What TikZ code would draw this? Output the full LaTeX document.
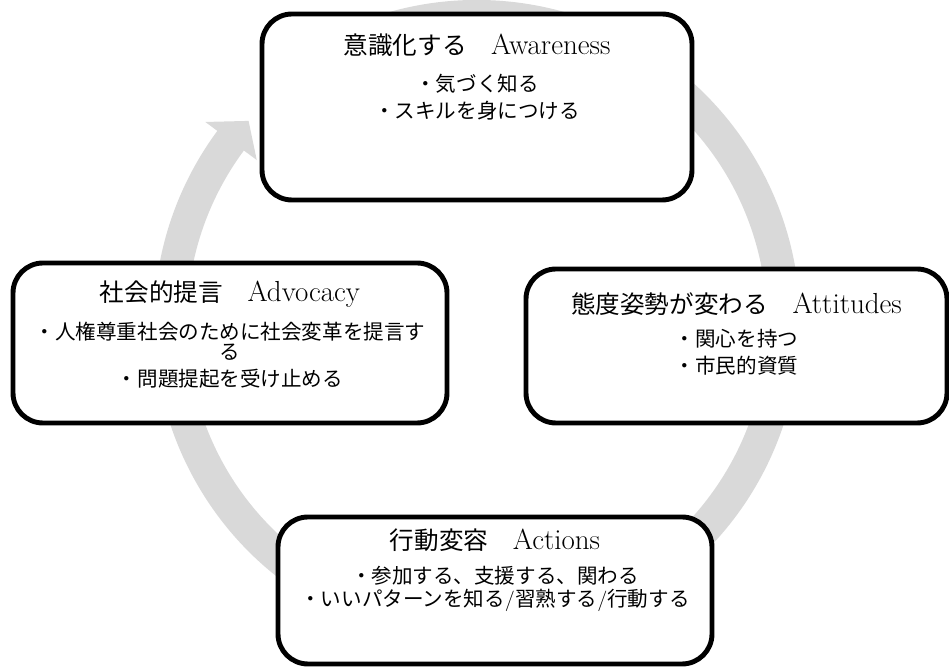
\documentclass[tikz,border=0pt]{standalone}
\usepackage{fontspec}
\newfontfamily\jp{Noto Sans CJK JP}
\usetikzlibrary{calc}
\definecolor{ringgray}{RGB}{217,217,217}
\newcommand{\jtitle}[1]{{\jp\fontsize{14}{17}\selectfont #1}}

\begin{document}
\begin{tikzpicture}[
  box/.style={draw, line width=2.8pt, rounded corners=0.6cm, fill=white},
  boxtitle/.style={font=\fontsize{16.5}{18}\selectfont, inner sep=0pt},
  boxtext/.style={font=\jp\fontsize{11.7}{15.4}\selectfont, align=center, anchor=north, inner sep=0pt}]
  \useasboundingbox (0,0) rectangle (18.98,13.36);
  \coordinate (ctr) at (9.54,6.9);
  \fill[ringgray] ($(ctr)+(120:6.46)$) arc[start angle=120, end angle=-216.5, radius=6.46]
    -- ($(ctr)+(143.5:6.76)$) -- ($(ctr)+(138.5:6.1)$) -- ($(ctr)+(143.5:5.48)$)
    -- ($(ctr)+(143.5:5.8)$) arc[start angle=143.5, end angle=480, radius=5.8] -- cycle;

  \node[box, minimum width=8.6cm, minimum height=3.72cm] (aware) at (9.54,11.22) {};
  \node[boxtitle] (aware-t) at ($(aware.north)+(0,-0.68)$) {\jtitle{意識化する　}Awareness};
  \node[boxtext] (aware-b) at ($(aware.north)+(0,-1.24)$) {・気づく知る\\・スキルを身につける};

  \node[box, minimum width=8.42cm, minimum height=3.08cm] (attit) at (14.73,6.44) {};
  \node[boxtitle] (attit-t) at ($(attit.north)+(0,-0.76)$) {\jtitle{態度姿勢が変わる　}Attitudes};
  \node[boxtext] (attit-b) at ($(attit.north)+(0,-1.24)$) {・関心を持つ\\・市民的資質};

  \node[box, minimum width=8.68cm, minimum height=2.94cm] (action) at (9.9,1.55) {};
  \node[boxtitle] (action-t) at ($(action.north)+(0,-0.52)$) {\jtitle{行動変容　}Actions};
  \node[boxtext] (action-b) at ($(action.north)+(0,-1.02)$)
    {・参加する、支援する、関わる\\[-2.3pt]・いいパターンを知る{\rmfamily /}習熟する{\rmfamily /}行動する};

  \node[box, minimum width=8.68cm, minimum height=3.2cm] (advoc) at (4.6,6.5) {};
  \node[boxtitle] (advoc-t) at ($(advoc.north)+(0,-0.68)$) {\jtitle{社会的提言　}Advocacy};
  \node[boxtext] (advoc-b) at ($(advoc.north)+(0,-1.22)$)
    {・人権尊重社会のために社会変革を提言す\\[-4pt]る\\・問題提起を受け止める};
\end{tikzpicture}
\end{document}
